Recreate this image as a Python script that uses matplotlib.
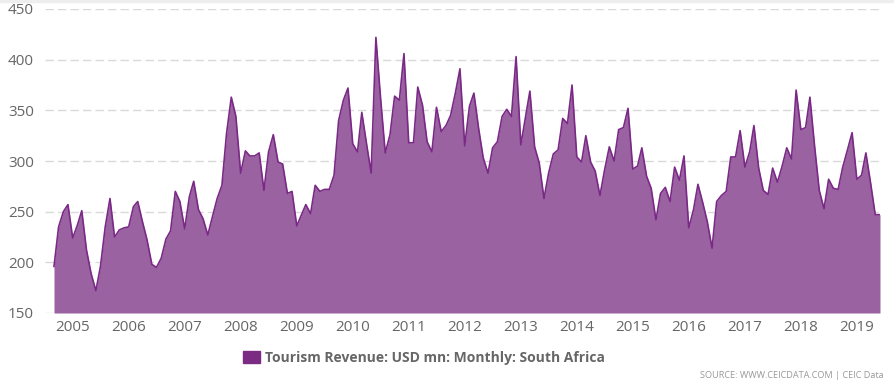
import matplotlib
matplotlib.use("Agg")
from matplotlib import pyplot as plt
from matplotlib.patches import Patch, Rectangle
import matplotlib.dates as mdates
import pandas as pd
import numpy as np

# monthly tourism revenue, USD mn, Sep 2004 .. Jun 2019
start = "2004-09-01"
revenue = [
    196, 235, 250, 257,
    224, 237, 251, 212, 189, 172, 196, 235, 263, 225, 232, 234,
    235, 255, 260, 240, 222, 198, 195, 204, 223, 231, 270, 260,
    233, 265, 280, 252, 243, 227, 245, 263, 276, 327, 363, 344,
    288, 310, 305, 305, 308, 271, 309, 326, 299, 297, 268, 270,
    236, 247, 257, 248, 276, 270, 272, 272, 286, 340, 360, 372,
    317, 309, 348, 317, 288, 422, 363, 308, 326, 364, 360, 406,
    318, 318, 373, 355, 319, 309, 353, 329, 335, 345, 367, 391,
    315, 354, 367, 332, 303, 288, 313, 319, 344, 351, 344, 403,
    316, 344, 369, 314, 298, 263, 288, 307, 311, 342, 337, 375,
    304, 299, 325, 299, 290, 266, 291, 314, 300, 331, 333, 352,
    292, 295, 313, 285, 273, 242, 268, 274, 260, 294, 281, 305,
    234, 252, 277, 259, 240, 214, 260, 266, 270, 304, 304, 330,
    294, 309, 335, 293, 271, 267, 293, 279, 295, 313, 302, 370,
    331, 333, 363, 314, 271, 253, 282, 273, 272, 294, 311, 328,
    282, 286, 308, 278, 247, 247,
]
years = list(range(2005, 2020))
yticks = [150, 200, 250, 300, 350, 400, 450]
series_name = "Tourism Revenue: USD mn: Monthly: South Africa"

months = pd.date_range(start, periods=len(revenue), freq="MS")

plt.rcParams["font.family"] = ["Open Sans", "DejaVu Sans"]

fig = plt.figure(figsize=(8.94, 3.82), dpi=100)
ax = fig.add_axes([45 / 894, 69 / 382, 835 / 894, 304 / 382])

fill_c = "#9a62a0"
line_c = "#7a2a86"

ax.fill_between(months, revenue, 150, color=fill_c, lw=0, zorder=2)
ax.plot(months, revenue, color=line_c, lw=1.2, zorder=3)

ax.set_ylim(150, 450)
ax.set_yticks(yticks)
left = mdates.date2num(months[0]) - 9 / 4.667 * 30.44
ax.set_xlim(left, mdates.date2num(months[-1]))
ax.set_xticks([mdates.date2num(pd.Timestamp(f"{y}-01-01")) for y in years])
ax.set_xticklabels([str(y) for y in years])

ax.tick_params(axis="both", length=0, labelsize=11, colors="#666666")
ax.tick_params(axis="y", pad=8)
ax.tick_params(axis="x", pad=5)
ax.grid(axis="y", color="#d9d9d9", lw=1, ls=(0, (6, 3)), zorder=1)
for s in ax.spines.values():
    s.set_visible(False)

fig.legend(handles=[Patch(color="#7b2c82")], labels=[series_name],
           loc="center", bbox_to_anchor=(424 / 894, 1 - 358 / 382),
           frameon=False, handlelength=1.2, handleheight=1.0, handletextpad=0.4,
           prop={"size": 10, "weight": "bold"}, labelcolor="#666666")

fig.text(884 / 894, 1 - 375 / 382, "SOURCE: WWW.CEICDATA.COM | CEIC Data",
         ha="right", va="center", fontsize=6.6, color="#999999")

fig.patches.append(Rectangle((0, 1 - 2 / 382), 1, 2 / 382, transform=fig.transFigure,
                             color="#eeeeee", zorder=0))

fig.savefig("out.png", dpi=100)
